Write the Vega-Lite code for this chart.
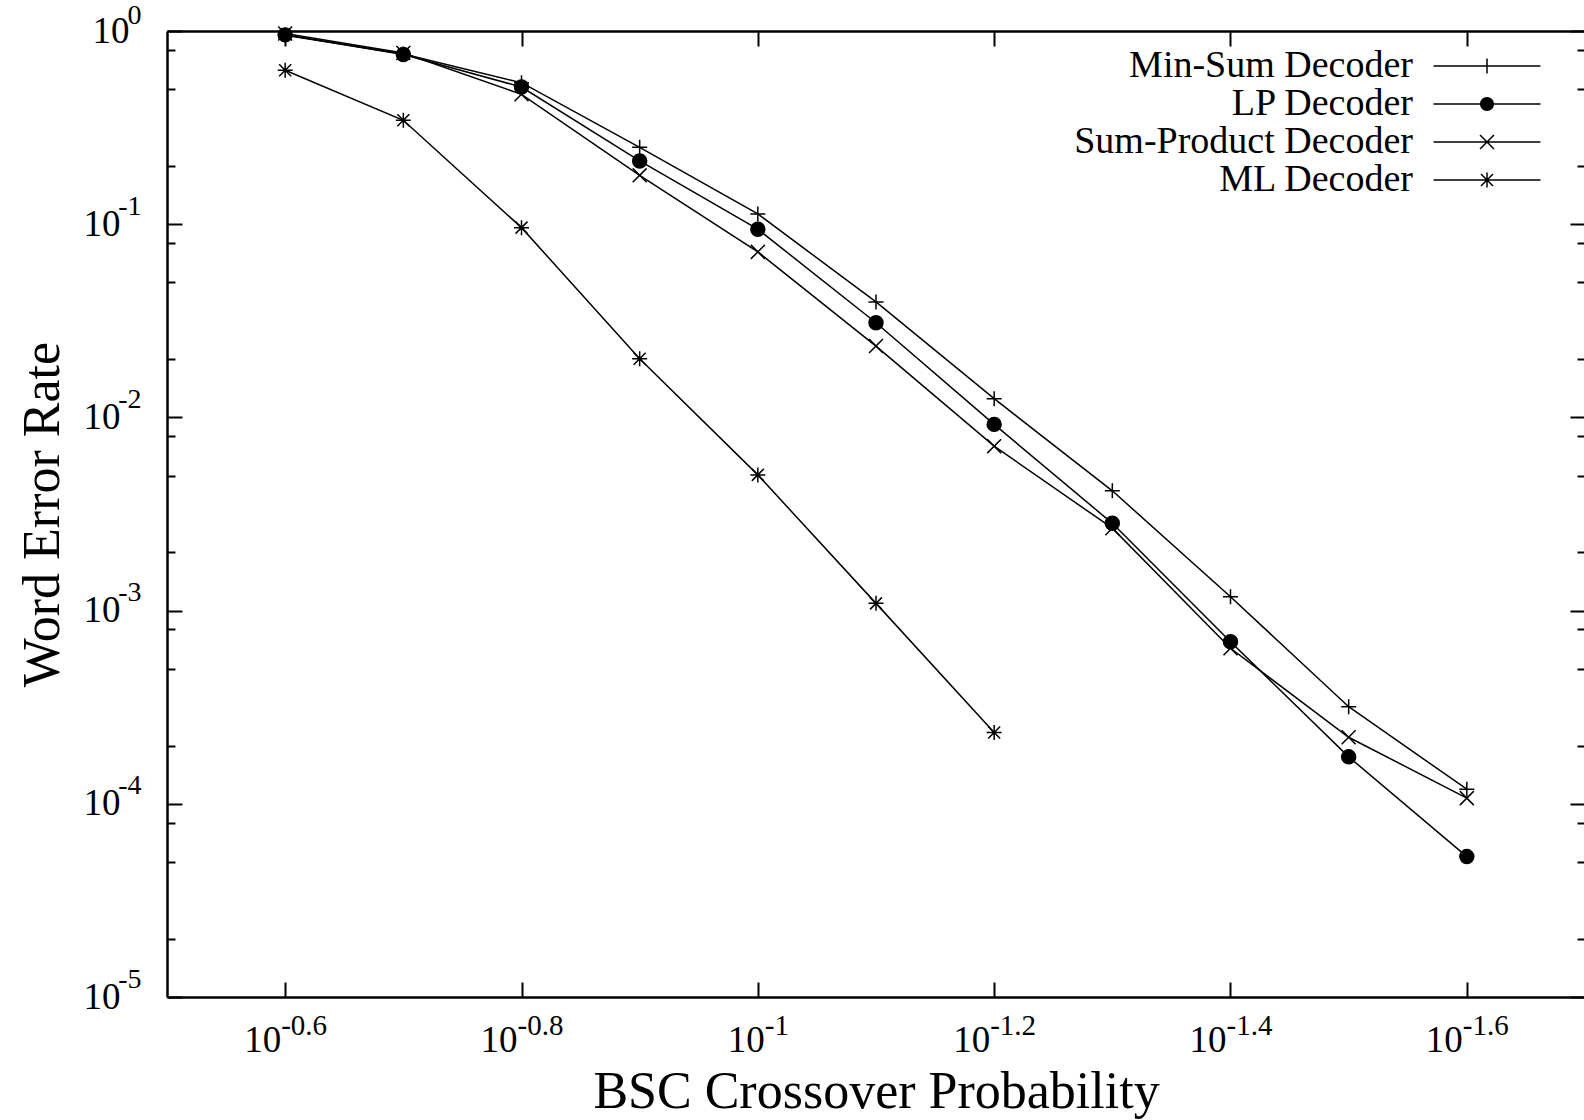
{
  "$schema": "https://vega.github.io/schema/vega-lite/v6.json",
  "width": 1418,
  "height": 966,
  "autosize": {"type": "none"},
  "padding": {"left": 167, "top": 31, "right": 0, "bottom": 123},
  "background": "white",
  "config": {
    "view": {"stroke": null},
    "font": "Liberation Serif",
    "axis": {
      "domainColor": "black", "domainWidth": 2.5, "tickColor": "black", "tickWidth": 2,
      "labelColor": "black", "labelFont": "Liberation Serif", "titleFont": "Liberation Serif",
      "titleColor": "black", "titleFontWeight": "normal", "grid": false, "labelFlush": false, "labelOverlap": false
    }
  },
  "data": {
    "values": [
      {"p": 0.251189, "wer": 0.95, "decoder": "Min-Sum Decoder"},
      {"p": 0.199526, "wer": 0.76, "decoder": "Min-Sum Decoder"},
      {"p": 0.158489, "wer": 0.54, "decoder": "Min-Sum Decoder"},
      {"p": 0.125893, "wer": 0.25, "decoder": "Min-Sum Decoder"},
      {"p": 0.1, "wer": 0.113, "decoder": "Min-Sum Decoder"},
      {"p": 0.0794328, "wer": 0.0396, "decoder": "Min-Sum Decoder"},
      {"p": 0.0630957, "wer": 0.0125, "decoder": "Min-Sum Decoder"},
      {"p": 0.0501187, "wer": 0.00417, "decoder": "Min-Sum Decoder"},
      {"p": 0.0398107, "wer": 0.00118, "decoder": "Min-Sum Decoder"},
      {"p": 0.0316228, "wer": 0.000318, "decoder": "Min-Sum Decoder"},
      {"p": 0.0251189, "wer": 0.000119, "decoder": "Min-Sum Decoder"},
      {"p": 0.251189, "wer": 0.955, "decoder": "LP Decoder"},
      {"p": 0.199526, "wer": 0.755, "decoder": "LP Decoder"},
      {"p": 0.158489, "wer": 0.513, "decoder": "LP Decoder"},
      {"p": 0.125893, "wer": 0.2126, "decoder": "LP Decoder"},
      {"p": 0.1, "wer": 0.0942, "decoder": "LP Decoder"},
      {"p": 0.0794328, "wer": 0.0309, "decoder": "LP Decoder"},
      {"p": 0.0630957, "wer": 0.0092, "decoder": "LP Decoder"},
      {"p": 0.0501187, "wer": 0.00283, "decoder": "LP Decoder"},
      {"p": 0.0398107, "wer": 0.00069, "decoder": "LP Decoder"},
      {"p": 0.0316228, "wer": 0.000175, "decoder": "LP Decoder"},
      {"p": 0.0251189, "wer": 0.0000533, "decoder": "LP Decoder"},
      {"p": 0.251189, "wer": 0.97, "decoder": "Sum-Product Decoder"},
      {"p": 0.199526, "wer": 0.77, "decoder": "Sum-Product Decoder"},
      {"p": 0.158489, "wer": 0.47, "decoder": "Sum-Product Decoder"},
      {"p": 0.125893, "wer": 0.179, "decoder": "Sum-Product Decoder"},
      {"p": 0.1, "wer": 0.0719, "decoder": "Sum-Product Decoder"},
      {"p": 0.0794328, "wer": 0.0234, "decoder": "Sum-Product Decoder"},
      {"p": 0.0630957, "wer": 0.0071, "decoder": "Sum-Product Decoder"},
      {"p": 0.0501187, "wer": 0.00267, "decoder": "Sum-Product Decoder"},
      {"p": 0.0398107, "wer": 0.000638, "decoder": "Sum-Product Decoder"},
      {"p": 0.0316228, "wer": 0.000221, "decoder": "Sum-Product Decoder"},
      {"p": 0.0251189, "wer": 0.000107, "decoder": "Sum-Product Decoder"},
      {"p": 0.251189, "wer": 0.626, "decoder": "ML Decoder"},
      {"p": 0.199526, "wer": 0.345, "decoder": "ML Decoder"},
      {"p": 0.158489, "wer": 0.096, "decoder": "ML Decoder"},
      {"p": 0.125893, "wer": 0.0201, "decoder": "ML Decoder"},
      {"p": 0.1, "wer": 0.00504, "decoder": "ML Decoder"},
      {"p": 0.0794328, "wer": 0.00109, "decoder": "ML Decoder"},
      {"p": 0.0630957, "wer": 0.000234, "decoder": "ML Decoder"}
    ]
  },
  "layer": [
    {
      "mark": {"type": "line", "color": "black", "strokeWidth": 1.5},
      "encoding": {
        "x": {
          "field": "p", "type": "quantitative",
          "scale": {"type": "log", "domain": [0.0199526, 0.316228], "reverse": true, "nice": false},
          "axis": {
            "orient": "bottom",
            "values": [0.251189, 0.158489, 0.1, 0.0630957, 0.0398107, 0.0251189],
            "labelExpr": "'10'", "tickSize": -15, "labelFontSize": 37,
            "labelAlign": "right", "labelBaseline": "alphabetic", "labelPadding": 69,
            "labelOffset": {"condition": {"test": "abs(datum.value - 0.1) < 0.001", "value": 6.5}, "value": -4.5},
            "title": "BSC Crossover Probability", "titleFontSize": 52, "titlePadding": 8
          }
        },
        "y": {
          "field": "wer", "type": "quantitative",
          "scale": {"type": "log", "domain": [0.00001, 1], "nice": false},
          "axis": {
            "orient": "left",
            "values": [1, 0.8, 0.5, 0.2, 0.1, 0.08, 0.05, 0.02, 0.01, 0.008, 0.005, 0.002, 0.001, 0.0008, 0.0005, 0.0002, 0.0001, 0.00008, 0.00005, 0.00002, 0.00001],
            "labelExpr": "abs(log(datum.value)/LN10 - round(log(datum.value)/LN10)) < 0.001 ? '10' : ''",
            "tickSize": {"condition": {"test": "abs(log(datum.value)/LN10 - round(log(datum.value)/LN10)) < 0.001", "value": -15}, "value": -8},
            "labelFontSize": 37, "labelAlign": "right", "labelBaseline": "middle",
            "labelPadding": {"condition": {"test": "datum.value > 0.5", "value": 53}, "value": 62},
            "title": "Word Error Rate", "titleFontSize": 52, "titlePadding": 14
          }
        },
        "detail": {"field": "decoder", "type": "nominal"}
      }
    },
    {
      "mark": {"type": "point", "filled": true, "fill": "black", "stroke": "black", "strokeWidth": 1.5, "size": 225, "opacity": 1},
      "encoding": {
        "x": {
          "field": "p", "type": "quantitative",
          "axis": {
            "orient": "bottom",
            "values": [0.251189, 0.158489, 0.1, 0.0630957, 0.0398107, 0.0251189],
            "labelExpr": "'' + (round(log(datum.value)/LN10*10)/10)",
            "ticks": false, "domain": false, "labelFontSize": 29,
            "labelAlign": "left", "labelBaseline": "alphabetic", "labelPadding": 37,
            "labelOffset": {"condition": {"test": "abs(datum.value - 0.1) < 0.001", "value": 6.5}, "value": -4.5},
            "title": null
          }
        },
        "y": {
          "field": "wer", "type": "quantitative",
          "axis": {
            "orient": "left",
            "values": [1, 0.1, 0.01, 0.001, 0.0001, 0.00001],
            "labelExpr": "'' + round(log(datum.value)/LN10)",
            "ticks": false, "domain": false, "labelFontSize": 28,
            "labelAlign": "right", "labelBaseline": "middle", "labelPadding": 26,
            "labelOffset": {"condition": {"test": "datum.value > 0.5", "value": -16}, "value": -18},
            "title": null
          }
        },
        "shape": {
          "field": "decoder", "type": "nominal",
          "scale": {
            "domain": ["Min-Sum Decoder", "LP Decoder", "Sum-Product Decoder", "ML Decoder"],
            "range": [
              "M-1,0H1M0,-1V1",
              "M-0.93,0A0.93,0.93,0,1,0,0.93,0A0.93,0.93,0,1,0,-0.93,0Z",
              "M-0.93,-0.93L0.93,0.93M-0.93,0.93L0.93,-0.93",
              "M-1,0H1M0,-1V1M-0.8,-0.8L0.8,0.8M-0.8,0.8L0.8,-0.8"
            ]
          },
          "legend": null
        }
      }
    },
    {
      "transform": [{"filter": "false"}],
      "mark": {"type": "point", "filled": true, "fill": "black", "stroke": "black", "strokeWidth": 1.5, "size": 225},
      "encoding": {
        "x": {
          "field": "p", "type": "quantitative",
          "axis": {
            "orient": "top",
            "values": [0.251189, 0.158489, 0.1, 0.0630957, 0.0398107, 0.0251189],
            "labels": false, "tickSize": -15, "title": null
          }
        },
        "y": {
          "field": "wer", "type": "quantitative",
          "axis": {
            "orient": "right",
            "values": [1, 0.8, 0.5, 0.2, 0.1, 0.08, 0.05, 0.02, 0.01, 0.008, 0.005, 0.002, 0.001, 0.0008, 0.0005, 0.0002, 0.0001, 0.00008, 0.00005, 0.00002, 0.00001],
            "labels": false,
            "tickSize": {"condition": {"test": "abs(log(datum.value)/LN10 - round(log(datum.value)/LN10)) < 0.001", "value": -15}, "value": -8},
            "title": null
          }
        },
        "shape": {
          "field": "decoder", "type": "nominal",
          "scale": {
            "domain": ["Min-Sum Decoder", "LP Decoder", "Sum-Product Decoder", "ML Decoder"],
            "range": [
              "M-7.13,-0.1H7.13V0.1H-7.13ZM-0.1,-1H0.1V1H-0.1Z",
              "M-7.13,-0.1H7.13V0.1H-7.13ZM-0.93,0A0.93,0.93,0,1,1,0.93,0A0.93,0.93,0,1,1,-0.93,0Z",
              "M-7.13,-0.1H7.13V0.1H-7.13ZM-0.859,-1.001L1.001,0.859L0.859,1.001L-1.001,-0.859ZM-1.001,0.859L0.859,-1.001L1.001,-0.859L-0.859,1.001Z",
              "M-7.13,-0.1H7.13V0.1H-7.13ZM-0.1,-1H0.1V1H-0.1ZM-0.729,-0.871L0.871,0.729L0.729,0.871L-0.871,-0.729ZM-0.871,0.729L0.729,-0.871L0.871,-0.729L-0.729,0.871Z"
            ]
          },
          "legend": {
            "title": null, "orient": "none", "legendX": 1301, "legendY": 16,
            "symbolSize": 225, "symbolStrokeColor": "black", "symbolFillColor": "black",
            "symbolStrokeWidth": 0, "symbolOpacity": 1,
            "labelFont": "Liberation Serif", "labelFontSize": 38, "labelColor": "black",
            "labelAlign": "right", "labelOffset": -93, "labelLimit": 0,
            "rowPadding": 0, "padding": 0,
            "encode": {
              "symbols": {
                "update": {
                  "fill": {"value": "black"},
                  "opacity": {"value": 1}
                }
              }
            }
          }
        }
      }
    }
  ],
  "resolve": {"axis": {"x": "independent", "y": "independent"}, "scale": {"shape": "independent"}}
}
